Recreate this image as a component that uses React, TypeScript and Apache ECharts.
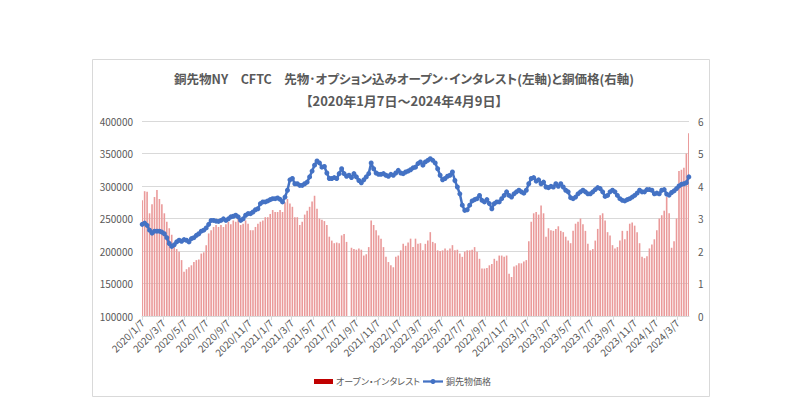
import React, { useEffect, useRef } from "react";
import * as echarts from "echarts";

const FONT = "'Noto Sans CJK JP', 'Noto Sans', sans-serif";

const titleLine1 = "銅先物NY　CFTC　先物･オプション込みオープン･インタレスト(左軸)と銅価格(右軸)";
const titleLine2 = "【2020年1月7日～2024年4月9日】";
const barName = "オープン・インタレスト";
const lineName = "銅先物価格";

// weekly observations (Tuesdays) starting 2020/1/7, ending 2024/4/9
const firstWeek = [2020, 1, 7];
const weekCount = 223;

const openInterest: (number | null)[] = [
  278000, 292000, 291000, 258000, 272000, 283000, 294000, 280000, 272000, 258000,
  245000, 235000, 225000, 212000, 203000, 199000, 186000, 168000, 172000, 175000,
  178000, 183000, 186000, 187000, 196000, 198000, 209000, 227000, 232000, 237000,
  240000, 237000, 240000, 237000, 241000, 245000, 241000, 247000, 245000, 250000,
  240000, 242000, 247000, 242000, 232000, 232000, 237000, 242000, 245000, 247000,
  252000, 252000, 257000, 263000, 260000, 260000, 263000, 260000, 275000, 280000,
  273000, 268000, 252000, 252000, 240000, 245000, 256000, 262000, 268000, 276000,
  285000, 265000, 250000, 248000, 246000, 240000, 222000, 216000, 212000, 213000,
  212000, 224000, 226000, 214000, null, 205000, 203000, 202000, 204000, 202000,
  193000, 195000, 206000, 247000, 240000, 232000, 224000, 219000, 206000, 191000,
  183000, 178000, 175000, 191000, 193000, 201000, 211000, 208000, 213000, 219000,
  206000, 219000, 211000, 212000, 201000, 211000, 216000, 229000, 214000, 212000,
  201000, 200000, 201000, 204000, 201000, 204000, 209000, 201000, 202000, 196000,
  191000, 199000, 201000, 201000, 202000, 206000, 199000, 188000, 173000, 173000,
  174000, 178000, 180000, 188000, 185000, 193000, 193000, 191000, 193000, 165000,
  160000, 176000, 178000, 181000, 181000, 184000, 186000, 215000, 245000, 258000,
  260000, 256000, 270000, 258000, 222000, 235000, 232000, 231000, 234000, 238000,
  231000, 229000, 222000, 216000, 212000, 231000, 242000, 245000, 250000, 241000,
  231000, 211000, 201000, 203000, 216000, 234000, 255000, 258000, 247000, 229000,
  224000, 209000, 204000, 206000, 216000, 231000, 218000, 231000, 242000, 244000,
  239000, 229000, 212000, 191000, 189000, 192000, 204000, 210000, 218000, 232000,
  250000, 255000, 262000, 283000, 258000, 205000, 215000, 250000, 323000, 325000,
  328000, 350000, 381000,
];

const copperPrice: number[] = [
  2.82, 2.86, 2.79, 2.64, 2.55, 2.61, 2.61, 2.61, 2.58, 2.53,
  2.41, 2.23, 2.14, 2.19, 2.28, 2.33, 2.30, 2.35, 2.33, 2.28,
  2.38, 2.41, 2.48, 2.53, 2.61, 2.64, 2.71, 2.82, 2.94, 2.94,
  2.92, 2.91, 2.94, 2.99, 2.94, 2.99, 3.05, 3.07, 3.10, 3.05,
  2.94, 2.99, 3.10, 3.15, 3.15, 3.20, 3.27, 3.30, 3.46, 3.51,
  3.51, 3.54, 3.58, 3.61, 3.61, 3.63, 3.59, 3.51, 3.66, 3.87,
  4.19, 4.23, 4.07, 4.07, 4.02, 4.02, 4.07, 4.12, 4.28, 4.46,
  4.64, 4.77, 4.71, 4.58, 4.60, 4.40, 4.23, 4.23, 4.26, 4.23,
  4.38, 4.53, 4.38, 4.30, 4.33, 4.26, 4.38, 4.28, 4.17, 4.10,
  4.19, 4.28, 4.38, 4.71, 4.53, 4.40, 4.36, 4.36, 4.38, 4.33,
  4.30, 4.36, 4.33, 4.40, 4.48, 4.40, 4.38, 4.43, 4.46, 4.50,
  4.56, 4.58, 4.69, 4.74, 4.64, 4.74, 4.79, 4.84, 4.79, 4.71,
  4.53, 4.33, 4.19, 4.23, 4.30, 4.33, 4.43, 4.17, 3.97, 3.76,
  3.41, 3.25, 3.27, 3.41, 3.54, 3.58, 3.61, 3.71, 3.56, 3.51,
  3.58, 3.46, 3.30, 3.46, 3.51, 3.51, 3.61, 3.71, 3.82, 3.71,
  3.66, 3.76, 3.82, 3.87, 3.82, 3.78, 3.87, 4.07, 4.23, 4.26,
  4.15, 4.19, 4.07, 4.12, 3.97, 3.95, 3.99, 3.97, 4.07, 3.99,
  4.07, 3.97, 3.87, 3.82, 3.64, 3.61, 3.66, 3.76, 3.82, 3.87,
  3.82, 3.76, 3.76, 3.82, 3.89, 3.95, 3.92, 3.82, 3.68, 3.71,
  3.82, 3.87, 3.82, 3.71, 3.61, 3.56, 3.54, 3.58, 3.61, 3.66,
  3.71, 3.78, 3.87, 3.82, 3.82, 3.89, 3.89, 3.87, 3.76, 3.78,
  3.76, 3.87, 3.89, 3.75, 3.72, 3.80, 3.85, 3.92, 4.00, 4.05,
  4.07, 4.10, 4.28,
];

const leftAxis = { min: 100000, max: 400000, interval: 50000 };
const rightAxis = { min: 0, max: 6, interval: 1 };

export default function App() {
  const ref = useRef<HTMLDivElement>(null);

  useEffect(() => {
    document.body.style.margin = "0";
    const chart = echarts.init(ref.current!, null, { renderer: "svg" });

    // daily category axis so that labels sit on exact calendar dates
    const start = Date.UTC(firstWeek[0], firstWeek[1] - 1, firstWeek[2]);
    const totalDays = (weekCount - 1) * 7 + 1;
    const days: string[] = [];
    for (let k = 0; k < totalDays; k++) {
      const d = new Date(start + k * 86400000);
      days.push(`${d.getUTCFullYear()}/${d.getUTCMonth() + 1}/${d.getUTCDate()}`);
    }
    const barData = days.map((_, k) => {
      if (k % 7 !== 0) return "-";
      const v = openInterest[k / 7];
      return v == null ? "-" : v;
    });
    const lineData = days.map((_, k) => (k % 7 === 0 ? copperPrice[k / 7] : "-"));
    const isMajor = (_i: number, value: string) => {
      const p = String(value).split("/");
      return p[2] === "7" && Number(p[1]) % 2 === 1;
    };

    const gray = "#595959";
    const grid = "#d9d9d9";

    chart.setOption({
      animation: false,
      textStyle: { fontFamily: FONT },
      grid: { left: 142, top: 121, width: 547, height: 195, containLabel: false },
      xAxis: {
        type: "category",
        data: days,
        boundaryGap: true,
        axisLine: { lineStyle: { color: grid } },
        axisTick: { show: true, interval: isMajor, alignWithLabel: true, length: 4, lineStyle: { color: grid } },
        axisLabel: { interval: isMajor, rotate: 45, color: gray, fontSize: 10, margin: 5, fontFamily: FONT },
        splitLine: { show: false },
      },
      yAxis: [
        {
          type: "value",
          min: leftAxis.min,
          max: leftAxis.max,
          interval: leftAxis.interval,
          axisLine: { show: false },
          axisTick: { show: false },
          axisLabel: {
            color: gray,
            fontSize: 10,
            margin: 9,
            fontFamily: FONT,
            formatter: (v: number) => String(v),
          },
          splitLine: { lineStyle: { color: grid, width: 1 } },
        },
        {
          type: "value",
          position: "right",
          min: rightAxis.min,
          max: rightAxis.max,
          interval: rightAxis.interval,
          axisLine: { show: false },
          axisTick: { show: false },
          axisLabel: { color: gray, fontSize: 10, margin: 9, fontFamily: FONT },
          splitLine: { show: false },
        },
      ],
      series: [
        {
          name: barName,
          type: "bar",
          yAxisIndex: 0,
          data: barData,
          barWidth: 1.6,
          itemStyle: { color: "#EA9A9A" },
        },
        {
          name: lineName,
          type: "line",
          yAxisIndex: 1,
          data: lineData,
          connectNulls: true,
          showAllSymbol: true,
          symbol: "circle",
          symbolSize: 5,
          lineStyle: { color: "#4472C4", width: 2.5 },
          itemStyle: { color: "#4472C4" },
          z: 3,
        },
      ],
      graphic: [
        {
          type: "rect",
          silent: true,
          z: -10,
          shape: { x: 92.5, y: 59.5, width: 617, height: 337 },
          style: { fill: "none", stroke: grid, lineWidth: 1 },
        },
        {
          type: "text",
          x: 404,
          y: 78,
          style: {
            text: titleLine1,
            fill: gray,
            fontSize: 12.5,
            fontWeight: "bold",
            fontFamily: FONT,
            align: "center",
            textAlign: "center",
            verticalAlign: "middle",
            textVerticalAlign: "middle",
          },
        },
        {
          type: "text",
          x: 404,
          y: 100,
          style: {
            text: titleLine2,
            fill: gray,
            fontSize: 13,
            fontWeight: "bold",
            fontFamily: FONT,
            align: "center",
            textAlign: "center",
            verticalAlign: "middle",
            textVerticalAlign: "middle",
          },
        },
        {
          type: "rect",
          shape: { x: 314, y: 379, width: 19, height: 5 },
          style: { fill: "#C00000" },
        },
        {
          type: "text",
          x: 336,
          y: 381.5,
          style: {
            text: barName,
            fill: gray,
            fontSize: 9,
            fontFamily: FONT,
            align: "left",
            textAlign: "left",
            verticalAlign: "middle",
            textVerticalAlign: "middle",
          },
        },
        {
          type: "line",
          shape: { x1: 423, y1: 381.5, x2: 443, y2: 381.5 },
          style: { stroke: "#4472C4", lineWidth: 2.25 },
        },
        {
          type: "circle",
          shape: { cx: 433, cy: 381.5, r: 2.5 },
          style: { fill: "#4472C4" },
        },
        {
          type: "text",
          x: 446,
          y: 381.5,
          style: {
            text: lineName,
            fill: gray,
            fontSize: 9,
            fontFamily: FONT,
            align: "left",
            textAlign: "left",
            verticalAlign: "middle",
            textVerticalAlign: "middle",
          },
        },
      ],
    });

    return () => chart.dispose();
  }, []);

  return (
    <>
      <style>{`#copper-chart text { font-feature-settings: "palt" 1; }`}</style>
      <div
        id="copper-chart"
        ref={ref}
        style={{ position: "absolute", left: 0, top: 0, width: 800, height: 419, background: "#fff" }}
      />
    </>
  );
}
